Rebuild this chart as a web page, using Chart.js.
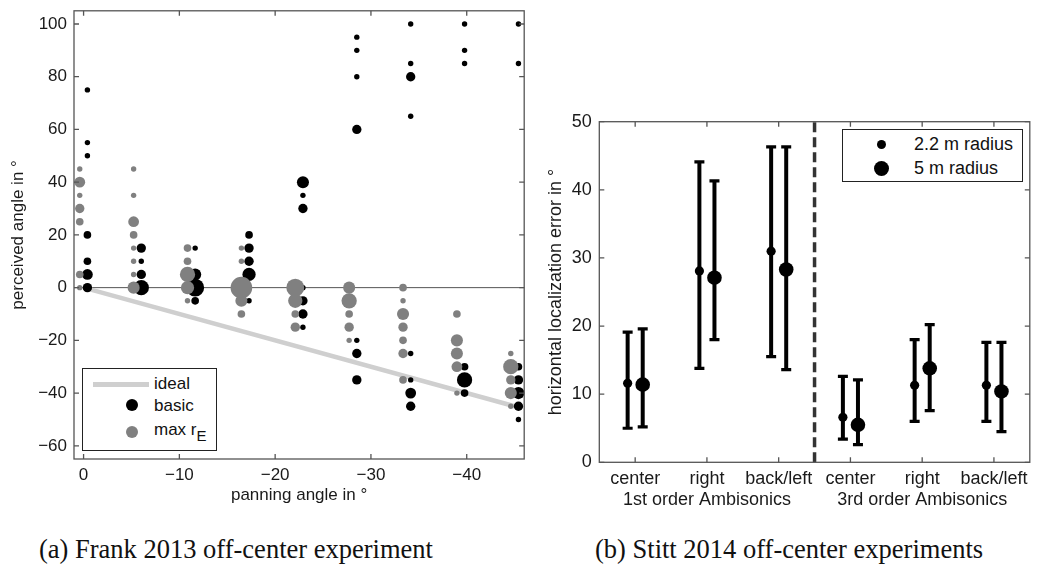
<!DOCTYPE html>
<html>
<head>
<meta charset="utf-8">
<script src="https://cdn.jsdelivr.net/npm/chart.js@4.4.1/dist/chart.umd.min.js"></script>
<style>
  body { margin: 0; background: #fff; width: 1038px; height: 566px; position: relative; overflow: hidden;
         font-family: "Liberation Sans", Arial, sans-serif; color: #111; }
  #wrapA { position: absolute; left: 0; top: 0; width: 535px; height: 515px; }
  #wrapB { position: absolute; left: 535px; top: 100px; width: 503px; height: 415px; }
  .legend { position: absolute; border: 1px solid #222; background: #fff; }
  .legend .item { position: absolute; font-size: 17px; line-height: 20px; color: #111; white-space: nowrap; }
  .legend .dot { position: absolute; border-radius: 50%; }
  .legend .bar { position: absolute; height: 5px; background: #cfcfcf; }
  .caption { position: absolute; top: 534px; font-family: "Liberation Serif", "Times New Roman", serif;
             font-size: 26.5px; color: #111; white-space: nowrap; }
</style>
</head>
<body>
<div id="wrapA"><canvas id="chartA" width="535" height="515"></canvas></div>
<div id="wrapB"><canvas id="chartB" width="503" height="415"></canvas></div>

<div class="legend" style="left:82px; top:368px; width:133px; height:81px;">
  <div class="bar" style="left:10px; top:13px; width:56px;"></div>
  <div class="item" style="left:71px; top:5px;">ideal</div>
  <div class="dot" style="left:43px; top:30px; width:12px; height:12px; background:#000;"></div>
  <div class="item" style="left:71px; top:27px;">basic</div>
  <div class="dot" style="left:43px; top:57px; width:12px; height:12px; background:#808080;"></div>
  <div class="item" style="left:71px; top:51px;">max r<sub style="font-size:15px; vertical-align:-6px;">E</sub></div>
</div>

<div class="legend" style="left:842px; top:129px; width:179px; height:51px;">
  <div class="dot" style="left:34px; top:10px; width:9px; height:9px; background:#000;"></div>
  <div class="item" style="left:71px; top:4px; font-size:18px;">2.2 m radius</div>
  <div class="dot" style="left:31px; top:31px; width:15px; height:15px; background:#000;"></div>
  <div class="item" style="left:71px; top:28px; font-size:18px;">5 m radius</div>
</div>

<div class="caption" style="left:39px;">(a) Frank 2013 off-center experiment</div>
<div class="caption" style="left:595px;">(b) Stitt 2014 off-center experiments</div>

<script>
// ---- (a) Frank 2013: perceived angle vs panning angle ----
const panAngles = [0, -5.625, -11.25, -16.875, -22.5, -28.125, -33.75, -39.375, -45];

// perceived angles per panning angle, and how many answers landed there (marker size)
const basicPerceived = [
  [75, 55, 50, 20, 10, 5, 0],
  [15, 10, 5, 0],
  [15, 5, 0, -5],
  [20, 15, 10, 5, -5],
  [40, 35, 30, 0, -5, -10, -15],
  [95, 90, 80, 60, -20, -25, -35],
  [100, 85, 80, 65, -25, -35, -40, -45],
  [100, 90, 85, -30, -35, -40],
  [100, 85, -30, -35, -40, -45, -50],
];
const basicCounts = [
  [1, 1, 1, 2, 2, 4, 3],
  [3, 1, 3, 8],
  [1, 5, 11, 2],
  [2, 3, 3, 6, 1],
  [5, 1, 3, 1, 3, 3, 1],
  [1, 1, 1, 3, 1, 3, 3],
  [1, 1, 3, 1, 1, 1, 4, 3],
  [1, 1, 1, 2, 8, 2],
  [1, 1, 2, 3, 5, 3, 1],
];
const maxRePerceived = [
  [45, 40, 35, 30, 25, 5, 0],
  [45, 35, 25, 20, 15, 10, 5, 0],
  [15, 10, 5, 0, -5],
  [15, 10, 0, -5, -10],
  [0, -5, -10, -15],
  [0, -5, -10, -15, -20],
  [0, -5, -10, -15, -20, -25, -35],
  [-10, -20, -25, -30, -40],
  [-25, -30, -35, -40, -45],
];
const maxReCounts = [
  [1, 4, 1, 3, 2, 2, 1],
  [1, 1, 4, 2, 1, 1, 1, 5],
  [2, 2, 8, 6, 1],
  [1, 1, 16, 5, 2],
  [11, 7, 2, 3],
  [5, 8, 2, 3, 1],
  [2, 1, 5, 3, 2, 3, 2],
  [2, 5, 5, 4, 1],
  [1, 8, 3, 5, 1],
];
const idealPan = [0, -45];
const idealPerceived = [0, -45];

// ---- (b) Stitt 2014: localization error per condition ----
const conditions = ['center', 'right', 'back/left', 'center', 'right', 'back/left'];
const orderGroups = ['1st order Ambisonics', '3rd order Ambisonics'];
const r22Mean = [11.6, 28.1, 31.0, 6.6, 11.3, 11.3];
const r22Low  = [5.0, 13.8, 15.5, 3.4, 6.0, 6.0];
const r22High = [19.1, 44.1, 46.3, 12.6, 18.0, 17.6];
const r5Mean  = [11.4, 27.1, 28.3, 5.5, 13.8, 10.4];
const r5Low   = [5.2, 18.0, 13.6, 2.6, 7.6, 4.5];
const r5High  = [19.6, 41.3, 46.3, 12.1, 20.2, 17.6];

const FONT = '"Liberation Sans", Arial, sans-serif';
const TXT = '#1a1a1a';
const AXIS = '#555';

const minus = v => (v < 0 ? '\u2212' + Math.abs(v) : '' + v);
const sizeOf = n => 2.7 * Math.sqrt(n);

// box around the plot + inward tick marks on all four sides, reference lines
const framePlugin = {
  id: 'frame',
  beforeDatasetsDraw(chart, args, opts) {
    const { ctx, chartArea: a, scales } = chart;
    ctx.save();
    if (opts.zeroLine) {
      const py = scales.y.getPixelForValue(0);
      ctx.strokeStyle = AXIS; ctx.lineWidth = 1;
      ctx.beginPath(); ctx.moveTo(a.left, py); ctx.lineTo(a.right, py); ctx.stroke();
    }
    ctx.restore();
  },
  afterDraw(chart, args, opts) {
    const { ctx, chartArea: a, scales } = chart;
    ctx.save();
    if (opts.divider != null) {
      const px = scales.x.getPixelForValue(opts.divider);
      ctx.strokeStyle = '#333'; ctx.lineWidth = 3.5; ctx.setLineDash([10, 5]);
      ctx.beginPath(); ctx.moveTo(px, a.bottom); ctx.lineTo(px, a.top); ctx.stroke();
      ctx.setLineDash([]);
    }
    ctx.strokeStyle = AXIS; ctx.lineWidth = 1.3;
    ctx.strokeRect(a.left, a.top, a.right - a.left, a.bottom - a.top);
    const L = 5;
    ctx.beginPath();
    scales.x.ticks.forEach(t => {
      const px = scales.x.getPixelForValue(t.value);
      ctx.moveTo(px, a.bottom); ctx.lineTo(px, a.bottom - L);
      ctx.moveTo(px, a.top); ctx.lineTo(px, a.top + L);
    });
    scales.y.ticks.forEach(t => {
      const py = scales.y.getPixelForValue(t.value);
      ctx.moveTo(a.left, py); ctx.lineTo(a.left + L, py);
      ctx.moveTo(a.right, py); ctx.lineTo(a.right - L, py);
    });
    ctx.stroke();
    ctx.restore();
  }
};

function bubbles(perceived, counts, shift) {
  return panAngles.flatMap((pan, i) =>
    perceived[i].map((y, k) => ({ x: pan + shift, y, n: counts[i][k] })));
}

new Chart(document.getElementById('chartA'), {
  type: 'scatter',
  data: {
    datasets: [
      {
        label: 'max rE',
        data: bubbles(maxRePerceived, maxReCounts, 0.4),
        backgroundColor: '#808080', borderWidth: 0,
        pointRadius: c => sizeOf(c.raw.n), order: 0, clip: false,
      },
      {
        label: 'basic',
        data: bubbles(basicPerceived, basicCounts, -0.4),
        backgroundColor: '#000', borderWidth: 0,
        pointRadius: c => sizeOf(c.raw.n), order: 1, clip: false,
      },
      {
        label: 'ideal',
        data: idealPan.map((x, i) => ({ x, y: idealPerceived[i] })),
        showLine: true, borderColor: '#cfcfcf', borderWidth: 4.5, pointRadius: 0, order: 2,
      },
    ]
  },
  options: {
    responsive: false,
    animation: false,
    layout: { padding: { left: 0, top: 9, right: 10, bottom: 0 } },
    plugins: { legend: { display: false }, tooltip: { enabled: false }, frame: { zeroLine: true } },
    scales: {
      x: {
        type: 'linear', reverse: true, min: -46, max: 1,
        afterFit: s => { s.height = 56; },
        grid: { display: false, drawTicks: false }, border: { display: false },
        ticks: { stepSize: 10, includeBounds: false, padding: 6, color: TXT,
                 font: { family: FONT, size: 17 }, callback: v => minus(v) },
        title: { display: true, text: 'panning angle in \u00b0', color: TXT,
                 font: { family: FONT, size: 17 }, padding: { top: 0, bottom: 9 } },
      },
      y: {
        min: -65, max: 105,
        afterFit: s => { s.width = 74; },
        grid: { display: false, drawTicks: false }, border: { display: false },
        ticks: { stepSize: 20, includeBounds: false, padding: 7, color: TXT,
                 font: { family: FONT, size: 17, lineHeight: 0.1 }, callback: v => minus(v) },
        title: { display: true, text: 'perceived angle in \u00b0', color: TXT,
                 font: { family: FONT, size: 17 }, padding: { top: 8, bottom: 0 } },
      }
    }
  },
  plugins: [framePlugin]
});

// error bars as broken line segments with flat caps
function errorBars(low, high, shift) {
  return low.flatMap((lo, i) => [
    { x: i + 1 + shift, y: lo },
    { x: i + 1 + shift, y: high[i] },
    { x: i + 1 + shift, y: null },
  ]);
}
const means = (vals, shift) => vals.map((y, i) => ({ x: i + 1 + shift, y }));

new Chart(document.getElementById('chartB'), {
  type: 'scatter',
  data: {
    datasets: [
      {
        label: '2.2 m radius', data: means(r22Mean, -0.105),
        backgroundColor: '#000', borderWidth: 0, pointRadius: 4.6, order: 0,
      },
      {
        label: '5 m radius', data: means(r5Mean, 0.105),
        backgroundColor: '#000', borderWidth: 0, pointRadius: 7.3, order: 0,
      },
      {
        label: 'err 2.2', data: errorBars(r22Low, r22High, -0.105), showLine: true, spanGaps: false,
        borderColor: '#000', borderWidth: 4, pointStyle: 'line', pointRadius: 5,
        pointBorderWidth: 3.2, pointBorderColor: '#000', order: 1,
      },
      {
        label: 'err 5', data: errorBars(r5Low, r5High, 0.105), showLine: true, spanGaps: false,
        borderColor: '#000', borderWidth: 4, pointStyle: 'line', pointRadius: 5,
        pointBorderWidth: 3.2, pointBorderColor: '#000', order: 1,
      },
    ]
  },
  options: {
    responsive: false,
    animation: false,
    layout: { padding: { left: 0, top: 21.7, right: 4.7, bottom: 0 } },
    plugins: { legend: { display: false }, tooltip: { enabled: false }, frame: { divider: 3.5 } },
    scales: {
      x: {
        type: 'linear', min: 0.5, max: 6.5,
        afterFit: s => { s.height = 52.7; },
        afterBuildTicks: s => { s.ticks = conditions.map((c, i) => ({ value: i + 1 })); },
        grid: { display: false, drawTicks: false }, border: { display: false },
        ticks: {
          padding: 6, color: TXT, autoSkip: false, maxRotation: 0,
          font: { family: FONT, size: 18, lineHeight: 1.17 },
          callback: v => {
            const i = Math.round(v) - 1;
            if (i === 1) return [conditions[i], orderGroups[0]];
            if (i === 4) return [conditions[i], orderGroups[1]];
            return conditions[i];
          }
        },
      },
      y: {
        min: 0, max: 50,
        afterFit: s => { s.width = 64.3; },
        grid: { display: false, drawTicks: false }, border: { display: false },
        ticks: { stepSize: 10, padding: 7.5, color: TXT, font: { family: FONT, size: 18, lineHeight: 0.1 } },
        title: { display: true, text: 'horizontal localization error in \u00b0', color: TXT,
                 font: { family: FONT, size: 18 }, padding: { top: 10.5, bottom: 0 } },
      }
    }
  },
  plugins: [framePlugin]
});
</script>
</body>
</html>
